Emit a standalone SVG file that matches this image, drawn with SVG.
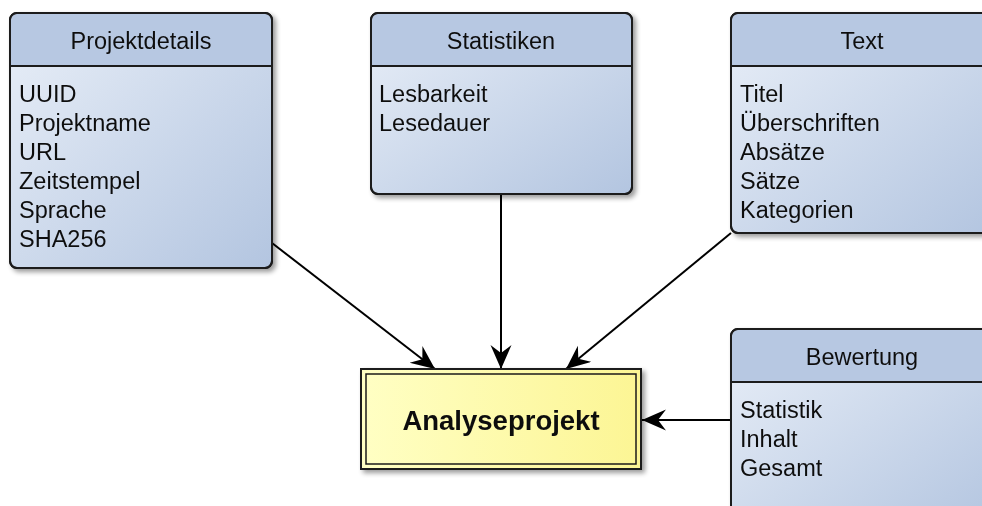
<svg xmlns="http://www.w3.org/2000/svg" width="982" height="506" viewBox="0 0 982 506">
<defs>
<linearGradient id="body" x1="0" y1="0" x2="1" y2="1">
<stop offset="0" stop-color="#e9eff8"/>
<stop offset="1" stop-color="#b3c5e0"/>
</linearGradient>
<linearGradient id="yel" x1="0" y1="0" x2="1" y2="0">
<stop offset="0" stop-color="#ffffc4"/>
<stop offset="1" stop-color="#fcf594"/>
</linearGradient>
<filter id="sh" x="-10%" y="-10%" width="130%" height="130%">
<feGaussianBlur in="SourceAlpha" stdDeviation="2.5"/>
<feOffset dx="3" dy="3"/>
<feComponentTransfer><feFuncA type="linear" slope="0.4"/></feComponentTransfer>
<feMerge><feMergeNode/><feMergeNode in="SourceGraphic"/></feMerge>
</filter>
<marker id="arr" markerWidth="26" markerHeight="22" refX="24" refY="10.5" orient="auto" markerUnits="userSpaceOnUse">
<path d="M0,0 L24,10.5 L0,21 L8,10.5 Z" fill="#000"/>
</marker>
</defs>
<style>
.box{fill:url(#body);stroke:#1a1a1a;stroke-width:2}
.hdr{fill:#b7c8e2}
.sep{stroke:#1a1a1a;stroke-width:2}
.t{font-family:"Liberation Sans",Arial,sans-serif;font-size:23.5px;fill:#111}
.h{text-anchor:middle}
.conn{stroke:#000;stroke-width:2;fill:none;marker-end:url(#arr)}
</style>
<g id="connectors">
<line class="conn" x1="272" y1="243" x2="435" y2="369"/>
<line class="conn" x1="501" y1="194" x2="501" y2="369"/>
<line class="conn" x1="731" y1="233" x2="566" y2="369"/>
<line class="conn" x1="731" y1="420" x2="642" y2="420"/>
</g>
<g id="projektdetails" filter="url(#sh)">
<rect class="box" x="10" y="13" width="262" height="255" rx="7"/>
<path class="hdr" d="M17,14 H265 A6,6 0 0 1 271,20 V66 H11 V20 A6,6 0 0 1 17,14 Z"/>
<rect x="10" y="13" width="262" height="255" rx="7" fill="none" stroke="#1a1a1a" stroke-width="2"/>
<line class="sep" x1="10" y1="66" x2="272" y2="66"/>
<text class="t h" x="141" y="49">Projektdetails</text>
<text class="t" x="19" y="102">UUID</text>
<text class="t" x="19" y="131">Projektname</text>
<text class="t" x="19" y="160">URL</text>
<text class="t" x="19" y="189">Zeitstempel</text>
<text class="t" x="19" y="218">Sprache</text>
<text class="t" x="19" y="247">SHA256</text>
</g>
<g id="statistiken" filter="url(#sh)">
<rect class="box" x="371" y="13" width="261" height="181" rx="7"/>
<path class="hdr" d="M378,14 H625 A6,6 0 0 1 631,20 V66 H372 V20 A6,6 0 0 1 378,14 Z"/>
<rect x="371" y="13" width="261" height="181" rx="7" fill="none" stroke="#1a1a1a" stroke-width="2"/>
<line class="sep" x1="371" y1="66" x2="632" y2="66"/>
<text class="t h" x="501" y="49">Statistiken</text>
<text class="t" x="379" y="102">Lesbarkeit</text>
<text class="t" x="379" y="131">Lesedauer</text>
</g>
<g id="text" filter="url(#sh)">
<rect class="box" x="731" y="13" width="262" height="220" rx="7"/>
<path class="hdr" d="M738,14 H986 A6,6 0 0 1 992,20 V66 H732 V20 A6,6 0 0 1 738,14 Z"/>
<rect x="731" y="13" width="262" height="220" rx="7" fill="none" stroke="#1a1a1a" stroke-width="2"/>
<line class="sep" x1="731" y1="66" x2="993" y2="66"/>
<text class="t h" x="862" y="49">Text</text>
<text class="t" x="740" y="102">Titel</text>
<text class="t" x="740" y="131">Überschriften</text>
<text class="t" x="740" y="160">Absätze</text>
<text class="t" x="740" y="189">Sätze</text>
<text class="t" x="740" y="218">Kategorien</text>
</g>
<g id="bewertung" filter="url(#sh)">
<rect class="box" x="731" y="329" width="262" height="200" rx="7"/>
<path class="hdr" d="M738,330 H986 A6,6 0 0 1 992,336 V382 H732 V336 A6,6 0 0 1 738,330 Z"/>
<rect x="731" y="329" width="262" height="200" rx="7" fill="none" stroke="#1a1a1a" stroke-width="2"/>
<line class="sep" x1="731" y1="382" x2="993" y2="382"/>
<text class="t h" x="862" y="365">Bewertung</text>
<text class="t" x="740" y="418">Statistik</text>
<text class="t" x="740" y="447">Inhalt</text>
<text class="t" x="740" y="476">Gesamt</text>
</g>
<g id="analyseprojekt" filter="url(#sh)">
<rect x="361" y="369" width="280" height="100" fill="url(#yel)" stroke="#1a1a1a" stroke-width="2"/>
<rect x="366" y="374" width="270" height="90" fill="none" stroke="#1a1a1a" stroke-width="1.5"/>
<text x="501" y="430" text-anchor="middle" font-family="'Liberation Sans',Arial,sans-serif" font-size="27.5" font-weight="bold" fill="#111">Analyseprojekt</text>
</g>
</svg>
